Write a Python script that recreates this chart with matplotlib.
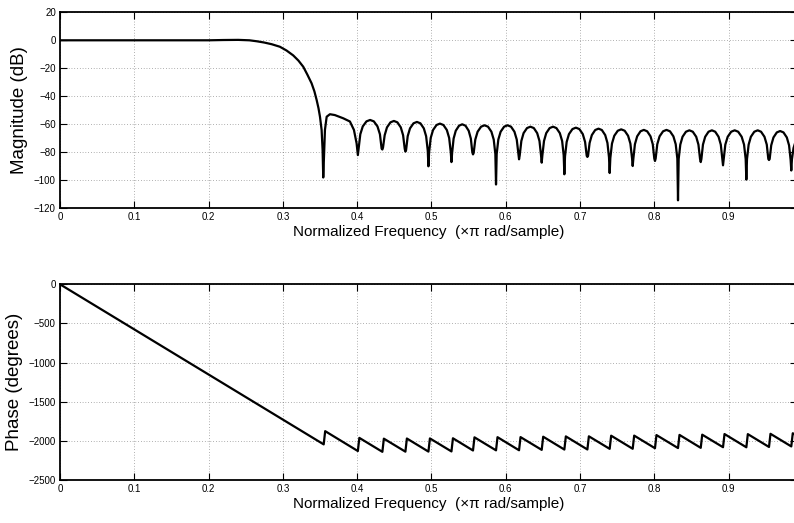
import matplotlib.pyplot as plt

plt.rcParams['font.family'] = ['Liberation Sans', 'DejaVu Sans']

# magnitude response (normalized frequency, dB)
pass_f = [0.0, 0.1, 0.18, 0.2, 0.22, 0.24, 0.255, 0.265, 0.275, 0.285, 0.296, 0.305,
          0.314, 0.321, 0.3275, 0.333, 0.3387, 0.3425, 0.3455, 0.348, 0.35, 0.3522, 0.3535]
pass_db = [0.0, 0.0, -0.05, 0.0, 0.2, 0.3, 0.0, -0.7, -1.6, -2.8, -4.6, -7.3,
           -10.8, -14.5, -18.9, -24.5, -30.7, -36.5, -42.6, -48.5, -54.6, -64.0, -78.0]

# first sidelobe (with shoulder)
lobe0_f = [0.3544, 0.3567, 0.359, 0.3634, 0.37, 0.3813, 0.3903, 0.3957, 0.3993]
lobe0_db = [-98.0, -64.0, -54.6, -52.8, -53.4, -55.7, -58.0, -64.0, -73.6]

# remaining stopband lobes: null, then points across the lobe
stop_f = [
    0.401, 0.4020, 0.4043, 0.4076, 0.4126, 0.4175, 0.4225, 0.4274, 0.4307, 0.4330,
    0.434, 0.4349, 0.4371, 0.4402, 0.4449, 0.4495, 0.4542, 0.4588, 0.4619, 0.4641,
    0.465, 0.4659, 0.4681, 0.4712, 0.4759, 0.4805, 0.4852, 0.4898, 0.4929, 0.4951,
    0.496, 0.4969, 0.4991, 0.5022, 0.5069, 0.5115, 0.5162, 0.5208, 0.5239, 0.5261,
    0.527, 0.5279, 0.5299, 0.5328, 0.5372, 0.5415, 0.5459, 0.5502, 0.5531, 0.5551,
    0.556, 0.5569, 0.5591, 0.5622, 0.5669, 0.5715, 0.5762, 0.5808, 0.5839, 0.5861,
    0.587, 0.5879, 0.5901, 0.5932, 0.5979, 0.6025, 0.6072, 0.6118, 0.6149, 0.6171,
    0.618, 0.6189, 0.6211, 0.6241, 0.6287, 0.6333, 0.6379, 0.6424, 0.6455, 0.6476,
    0.6485, 0.6494, 0.6516, 0.6546, 0.6592, 0.6638, 0.6683, 0.6729, 0.6760, 0.6781,
    0.679, 0.6799, 0.6821, 0.6852, 0.6899, 0.6945, 0.6992, 0.7038, 0.7069, 0.7091,
    0.710, 0.7109, 0.7130, 0.7160, 0.7205, 0.7250, 0.7295, 0.7340, 0.7370, 0.7391,
    0.740, 0.7409, 0.7431, 0.7462, 0.7509, 0.7555, 0.7602, 0.7648, 0.7679, 0.7701,
    0.771, 0.7719, 0.7740, 0.7770, 0.7815, 0.7860, 0.7905, 0.7950, 0.7980, 0.8001,
    0.801, 0.8019, 0.8041, 0.8072, 0.8119, 0.8165, 0.8212, 0.8258, 0.8289, 0.8311,
    0.832, 0.8329, 0.8351, 0.8381, 0.8427, 0.8473, 0.8519, 0.8565, 0.8595, 0.8617,
    0.8626, 0.8635, 0.8656, 0.8686, 0.8731, 0.8776, 0.8821, 0.8866, 0.8896, 0.8917,
    0.8926, 0.8935, 0.8957, 0.8989, 0.9036, 0.9083, 0.9130, 0.9177, 0.9209, 0.9231,
    0.924, 0.9249, 0.9271, 0.9301, 0.9347, 0.9393, 0.9438, 0.9484, 0.9515, 0.9536,
    0.9545, 0.9554, 0.9575, 0.9605, 0.9650, 0.9695, 0.9740, 0.9785, 0.9815, 0.9836,
    0.9845, 0.9854, 0.9875, 0.9922,
]
stop_db = [
    -82.0, -77.4, -67.1, -61.5, -57.9, -56.9, -57.9, -61.5, -67.1, -77.4,
    -78.0, -76.5, -67.8, -62.2, -58.6, -57.6, -58.6, -62.2, -67.8, -77.5,
    -79.5, -78.5, -68.5, -62.9, -59.3, -58.3, -59.3, -62.9, -68.5, -78.8,
    -90.0, -80.0, -69.7, -64.1, -60.5, -59.5, -60.5, -64.1, -69.7, -80.0,
    -87.0, -80.5, -70.2, -64.6, -61.0, -60.0, -61.0, -64.6, -70.2, -80.0,
    -81.5, -80.5, -70.9, -65.3, -61.7, -60.7, -61.7, -65.3, -70.9, -81.2,
    -103.0, -81.2, -70.9, -65.3, -61.7, -60.7, -61.7, -65.3, -70.9, -81.2,
    -85.0, -82.2, -71.9, -66.3, -62.7, -61.7, -62.7, -66.3, -71.9, -82.2,
    -87.4, -82.2, -71.9, -66.3, -62.7, -61.7, -62.7, -66.3, -71.9, -82.2,
    -95.7, -82.9, -72.6, -67.0, -63.4, -62.4, -63.4, -67.0, -72.6, -82.5,
    -83.3, -82.5, -73.3, -67.7, -64.1, -63.1, -64.1, -67.7, -73.3, -83.6,
    -94.8, -84.1, -73.8, -68.2, -64.6, -63.6, -64.6, -68.2, -73.8, -84.1,
    -89.8, -84.5, -74.2, -68.6, -65.0, -64.0, -65.0, -68.6, -74.2, -84.5,
    -86.2, -84.5, -74.2, -68.6, -65.0, -64.0, -65.0, -68.6, -74.2, -84.5,
    -114.3, -84.8, -74.5, -68.9, -65.3, -64.3, -65.3, -68.9, -74.5, -84.8,
    -87.0, -84.8, -74.5, -68.9, -65.3, -64.3, -65.3, -68.9, -74.5, -84.8,
    -89.3, -84.8, -74.5, -68.9, -65.3, -64.3, -65.3, -68.9, -74.5, -84.8,
    -99.5, -84.8, -74.5, -68.9, -65.3, -64.3, -65.3, -68.9, -74.5, -84.8,
    -85.5, -84.8, -75.0, -69.4, -65.8, -64.8, -65.8, -69.4, -75.0, -85.3,
    -93.0, -85.0, -77.0, -69.0,
]

# phase response (degrees): corners of the linear ramp and sawtooth
phase_f = [0.0, 0.355, 0.357,
           0.401, 0.403, 0.434, 0.436, 0.465, 0.467, 0.496, 0.498,
           0.527, 0.529, 0.556, 0.558, 0.587, 0.589, 0.618, 0.620,
           0.6485, 0.6505, 0.679, 0.681, 0.710, 0.712, 0.740, 0.742,
           0.771, 0.773, 0.801, 0.803, 0.832, 0.834, 0.8626, 0.8646,
           0.8926, 0.8946, 0.924, 0.926, 0.9545, 0.9565, 0.9845, 0.9865, 0.9922]
phase_deg = [0, -2045, -1876,
             -2130, -1962, -2140, -1972, -2138, -1970, -2137, -1969,
             -2135, -1967, -2123, -1955, -2121, -1953, -2120, -1952,
             -2115, -1947, -2111, -1943, -2110, -1942, -2102, -1934,
             -2101, -1933, -2094, -1926, -2092, -1924, -2089, -1921,
             -2081, -1913, -2082, -1914, -2078, -1910, -2071, -1903, -1935]

mag_f = pass_f + lobe0_f + stop_f
mag_db = pass_db + lobe0_db + stop_db

xticks = [0, 0.1, 0.2, 0.3, 0.4, 0.5, 0.6, 0.7, 0.8, 0.9]
xlabel = 'Normalized Frequency  (\u00d7\u03c0 rad/sample)'

fig = plt.figure(figsize=(7.94, 5.23), dpi=100)
W, H = 794, 523
ax1 = fig.add_axes([60 / W, (H - 208.3) / H, 737 / W, 196 / H])
ax2 = fig.add_axes([60 / W, (H - 480) / H, 737 / W, 195.7 / H])

ax1.plot(mag_f, mag_db, color='black', lw=1.6)
ax1.set_ylim(-120, 20)
ax1.set_yticks(range(-120, 21, 20))
ax1.set_ylabel('Magnitude (dB)', fontsize=13.5, labelpad=4)

ax2.plot(phase_f, phase_deg, color='black', lw=1.6)
ax2.set_ylim(-2500, 0)
ax2.set_yticks(range(-2500, 1, 500))
ax2.set_ylabel('Phase (degrees)', fontsize=13.5, labelpad=4)

for ax in (ax1, ax2):
    ax.set_xlim(0, 0.9922)
    ax.set_xticks(xticks)
    ax.set_xticklabels([str(t) for t in xticks])
    ax.set_xlabel(xlabel, fontsize=11, labelpad=2)
    ax.grid(True, color='black', linestyle=(0, (1, 3)), linewidth=0.5, alpha=0.6)
    ax.tick_params(direction='in', length=5, width=0.8, labelsize=7,
                   top=True, right=True, pad=3)
    for s in ax.spines.values():
        s.set_linewidth(1.3)

fig.savefig('out.png', dpi=100)
